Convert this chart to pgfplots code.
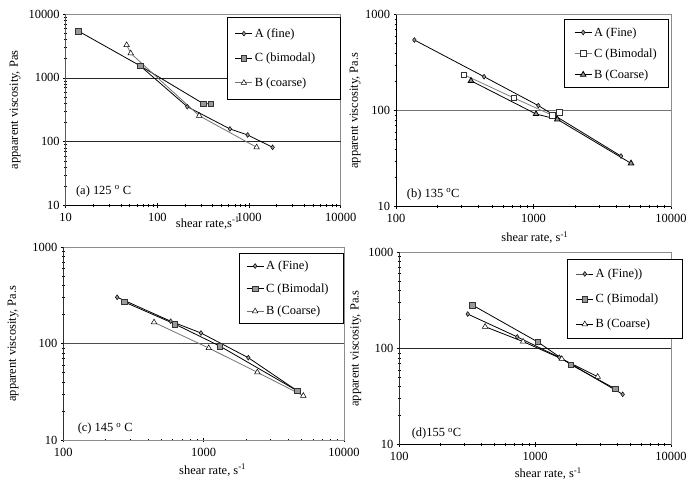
\documentclass[border=0pt]{standalone}
\usepackage{pgfplots}
\pgfplotsset{compat=1.18}
\usepackage{fontspec}
\setmainfont{Liberation Serif}
\pgfplotsset{
 every axis/.append style={
  xmode=log, ymode=log, scale only axis,
  axis line style={black!45, line width=0.8bp},
  tick align=center, major tick length=5bp,
  tick style={black, line width=0.6bp},
  tick pos=left,
  minor xtick={}, minor ytick={},
  extra y tick labels={},
  extra y tick style={grid=major, major tick length=0bp},
  grid style={black!85, line width=0.6bp},
  ticklabel style={font=\fontsize{12.5}{14}\selectfont},
  xticklabel style={yshift=-2bp},
  label style={font=\fontsize{12.5}{14}\selectfont},
  ylabel style={anchor=center},
  legend style={draw=black, line width=0.8bp, font=\fontsize{12.5}{14}\selectfont,
     anchor=north east, cells={anchor=west}},
 },
 sA/.style={black, line width=0.8bp, mark=diamond*, mark size=2.4bp, mark options={fill=black!40, draw=black, line width=0.5bp}},
 sC/.style={black, line width=0.8bp, mark=square*, mark size=2.8bp, mark options={fill=black!40, draw=black!80, line width=0.5bp}},
 sB/.style={black!55, line width=0.8bp, mark=triangle*, mark size=3.2bp, mark options={fill=white, draw=black, line width=0.5bp}},
}
\begin{document}
\begin{tikzpicture}
\useasboundingbox (0bp,0bp) rectangle (689bp,485bp);
% (a)
\begin{axis}[anchor=south west, at={(65.7bp,279.3bp)}, width=275bp, height=191.7bp,
  xmin=10, xmax=10000, ymin=10, ymax=10000,
  extra y ticks={100,1000},
  xtick={10,100,1000,10000}, xticklabels={10,100,1000,10000},
  ytick={10,100,1000,10000}, yticklabels={10,100,1000,10000},
  xlabel={shear rate,s\textsuperscript{-1}},
  xlabel style={at={(axis description cs:0.517,0)}, anchor=north, yshift=-8bp},
  ylabel={appaarent viscosity, Pas},
  ylabel style={at={(axis description cs:-0.184,0.5)}},
  legend style={at={(1,0.984)}, row sep=10.5bp, inner xsep=8bp, inner ysep=9bp}]
\addplot[sA] coordinates {(64.6,1553) (212,354) (619,159) (965,128) (1808,82)};
\addlegendentry{A (fine)}
\addplot[sC] coordinates {(13.7,5420) (64.6,1553) (317,395) (381,395)};
\addlegendentry{C (bimodal)\hspace*{15bp}}
\addplot[sB] coordinates {(46.2,3270) (51.2,2427) (286,256) (1210,82)};
\addlegendentry{B (coarse)}
\node[anchor=base west, font=\fontsize{12.5}{14}\selectfont] at (rel axis cs:0.025,0.061) {(a) 125 \textsuperscript{o} C};
\draw[black, line width=0.9bp] (rel axis cs:0,1) -- (rel axis cs:0,0) -- (rel axis cs:1,0);
\end{axis}
% (b)
\begin{axis}[anchor=south west, at={(396bp,278.3bp)}, width=275bp, height=192bp,
  xmin=100, xmax=10000, ymin=10, ymax=1000,
  extra y ticks={100}, grid style={black!55},
  xtick={100,1000,10000}, xticklabels={100,1000,10000},
  ytick={10,100,1000}, yticklabels={10,100,1000},
  xlabel={shear rate, s\textsuperscript{-1}},
  xlabel style={at={(axis description cs:0.505,0)}, anchor=center, yshift=-31bp},
  ylabel={apparent viscosity, Pa.s},
  ylabel style={at={(axis description cs:-0.149,0.5)}},
  legend style={at={(0.993,0.975)}, row sep=7bp, inner xsep=10bp, inner ysep=5.5bp}]
\addplot[sA] coordinates {(136,545) (437,226) (1084,113) (4328,33.7)};
\addlegendentry{A (Fine)}
\addplot[sC, black!50, mark options={fill=white, draw=black!80}] coordinates {(312,237) (718,136) (1371,89.6) (1541,96)};
\addlegendentry{C (Bimodal)}
\addplot[sB, black, mark options={fill=black!40, draw=black}] coordinates {(351,205) (1043,92.4) (1490,81.3) (5118,28.3)};
\addlegendentry{B (Coarse)}
\node[anchor=base west, font=\fontsize{12.5}{14}\selectfont] at (rel axis cs:0.027,0.049) {(b) 135 \textsuperscript{o}C};
\draw[black, line width=0.9bp] (rel axis cs:0,1) -- (rel axis cs:0,0) -- (rel axis cs:1,0);
\end{axis}
% (c)
\begin{axis}[anchor=south west, at={(63.3bp,45bp)}, width=280.7bp, height=192.7bp,
  xmin=100, xmax=10000, ymin=10, ymax=1000,
  extra y ticks={100}, grid style={black!70},
  xtick={100,1000,10000}, xticklabels={100,1000,10000},
  ytick={10,100,1000}, yticklabels={10,100,1000},
  xlabel={shear rate, s\textsuperscript{-1}},
  xlabel style={at={(axis description cs:0.532,0)}, anchor=center, yshift=-30bp},
  ylabel={apparent viscosity, Pa.s},
  ylabel style={at={(axis description cs:-0.179,0.5)}},
  legend style={at={(1,0.970)}, row sep=8.5bp, inner xsep=7bp, inner ysep=5.5bp}]
\addplot[sA] coordinates {(242,303) (582,171) (957,129) (2080,71.5) (4625,32.5)};
\addlegendentry{A (Fine)}
\addplot[sC] coordinates {(272,271) (622,160) (1301,94.5) (4625,32.5)};
\addlegendentry{C (Bimodal)\hspace*{6bp}}
\addplot[sB] coordinates {(443,166.5) (1087,90) (2412,50.4) (5130,28.8)};
\addlegendentry{B (Coarse)}
\node[anchor=base west, font=\fontsize{12.5}{14}\selectfont] at (rel axis cs:0.039,0.043) {(c) 145 \textsuperscript{o} C};
\draw[black, line width=0.9bp] (rel axis cs:0,1) -- (rel axis cs:0,0) -- (rel axis cs:1,0);
\end{axis}
% (d)
\begin{axis}[anchor=south west, at={(399.3bp,40.3bp)}, width=271.7bp, height=192.4bp,
  xmin=100, xmax=10000, ymin=10, ymax=1000,
  extra y ticks={100},
  xtick={100,1000,10000}, xticklabels={100,1000,10000},
  ytick={10,100,1000}, yticklabels={10,100,1000},
  xlabel={shear rate, s\textsuperscript{-1}},
  xlabel style={at={(axis description cs:0.548,0)}, anchor=center, yshift=-29bp},
  ylabel={apparent viscosity, Pa.s},
  ylabel style={at={(axis description cs:-0.160,0.5)}},
  legend style={at={(1.043,0.965)}, row sep=11bp, inner xsep=8bp, inner ysep=7.5bp}]
\addplot[sA] coordinates {(319,228) (738,132) (1506,81) (4408,33.4)};
\addlegendentry{A (Fine))}
\addplot[sC] coordinates {(345,283) (1044,117) (1830,68) (3870,38.2)};
\addlegendentry{C (Bimodal)\hspace*{14bp}}
\addplot[sB, black] coordinates {(428,168.5) (815,118) (1570,78) (2886,50.9)};
\addlegendentry{B (Coarse)}
\node[anchor=base west, font=\fontsize{12.5}{14}\selectfont] at (rel axis cs:0.033,0.042) {(d)155 \textsuperscript{o}C};
\draw[black, line width=0.9bp] (rel axis cs:0,1) -- (rel axis cs:0,0) -- (rel axis cs:1,0);
\end{axis}
\end{tikzpicture}
\end{document}
